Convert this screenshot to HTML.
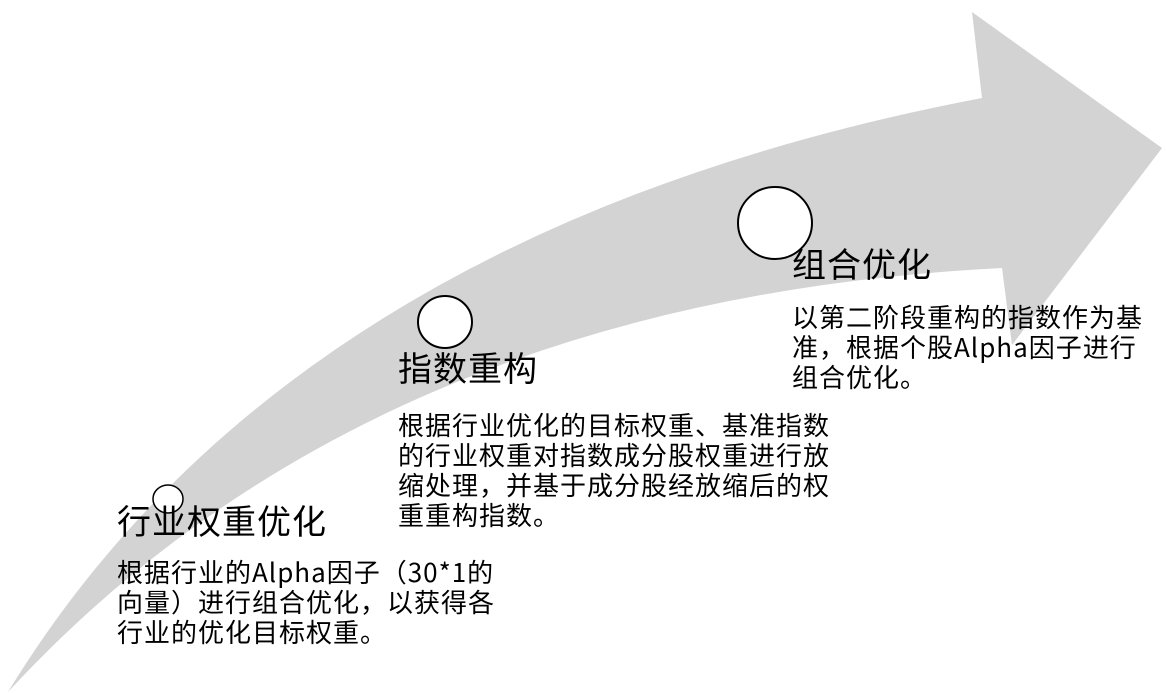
<!DOCTYPE html>
<html><head><meta charset="utf-8"><style>
html,body{margin:0;padding:0;background:#fff;}
body{width:1167px;height:693px;position:relative;overflow:hidden;font-family:"WenQuanYi Zen Hei","Noto Sans CJK SC",sans-serif;color:#000;}
.t{position:absolute;white-space:nowrap;font-size:34px;line-height:40px;letter-spacing:1px;}
.d{position:absolute;white-space:nowrap;font-size:26px;line-height:30px;letter-spacing:1px;}
svg{position:absolute;left:0;top:0;}
</style></head><body>
<svg width="1167" height="693" viewBox="0 0 1167 693">
<path d="M8,692 Q290,230 982,98 L972,12 L1162,148 L1012,345 L1002,268 Q370,300 8,692 Z" fill="#d3d3d3"/>
<ellipse cx="775" cy="223" rx="37" ry="36" fill="#fff" stroke="#000" stroke-width="2"/>
<ellipse cx="445" cy="322" rx="27" ry="26" fill="#fff" stroke="#000" stroke-width="2"/>
<ellipse cx="168" cy="499" rx="15" ry="14" fill="#fff" stroke="#000" stroke-width="1.5"/>
</svg>
<div class="t" style="left:792px;top:243px;">组合优化</div>
<div class="d" style="left:792px;top:302px;">以第二阶段重构的指数作为基<br>准，根据个股Alpha因子进行<br>组合优化。</div>
<div class="t" style="left:398px;top:347px;">指数重构</div>
<div class="d" style="left:398px;top:410px;">根据行业优化的目标权重、基准指数<br>的行业权重对指数成分股权重进行放<br>缩处理，并基于成分股经放缩后的权<br>重重构指数。</div>
<div class="t" style="left:117px;top:500px;">行业权重优化</div>
<div class="d" style="left:117px;top:557px;">根据行业的Alpha因子（30*1的<br>向量）进行组合优化，以获得各<br>行业的优化目标权重。</div>
</body></html>
